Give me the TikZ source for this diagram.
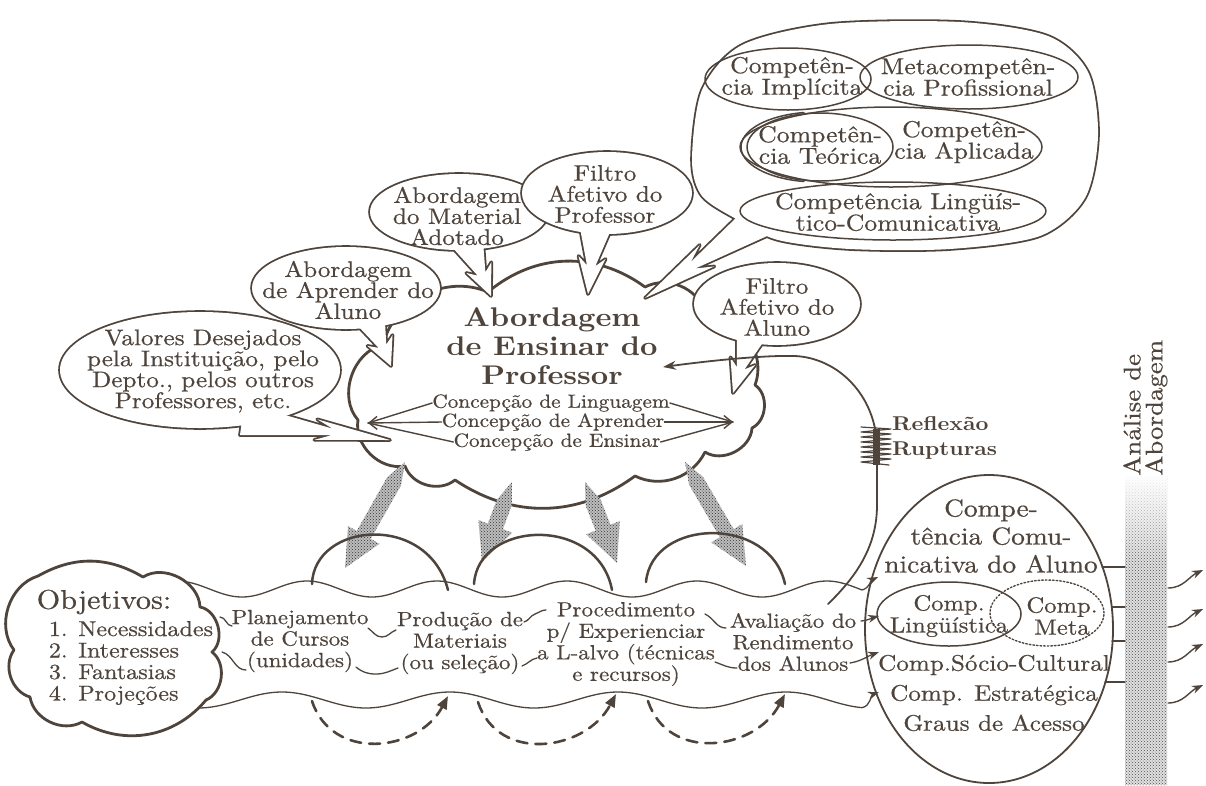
\documentclass[tikz,border=0pt]{standalone}
\usepackage{fontspec}
\setmainfont{lmroman10}[Extension=.otf, UprightFont=*-regular, BoldFont=*-bold, ItalicFont=*-italic, BoldItalicFont=*-bolditalic, FakeStretch=1.12, UprightFeatures={FakeBold=0.6}]
\usetikzlibrary{calc,arrows.meta,patterns,fadings,shapes.geometric}
\definecolor{ink}{RGB}{78,68,60}
\newcommand\setfs[2]{\fontsize{#1}{#2}\selectfont\lineskiplimit=-60pt\relax}

% zig-zag speech tail: emerging at (#1,#2), tip (#3,#4), half width #5
\newcommand\tailpts[5]{%
  \pgfmathsetmacro\tdx{(#3-#1)/100}%
  \pgfmathsetmacro\tdy{(#4-#2)/100}%
  \pgfmathsetmacro\tln{sqrt(\tdx*\tdx+\tdy*\tdy)}%
  \pgfmathsetmacro\tux{\tdx/\tln}%
  \pgfmathsetmacro\tuy{\tdy/\tln}%
  \pgfmathsetmacro\tnx{-\tuy*#5}%
  \pgfmathsetmacro\tny{\tux*#5}%
  \coordinate (zA) at ({#1-20*\tux+\tnx},{#2-20*\tuy+\tny});
  \coordinate (zP1) at ({#1+55*\tdx+0.2*\tnx},{#2+55*\tdy+0.2*\tny});
  \coordinate (zP2) at ({#1+42*\tdx+0.65*\tnx},{#2+42*\tdy+0.65*\tny});
  \coordinate (zT) at (#3,#4);
  \coordinate (zP3) at ({#1+42*\tdx-0.65*\tnx},{#2+42*\tdy-0.65*\tny});
  \coordinate (zP4) at ({#1+55*\tdx-0.2*\tnx},{#2+55*\tdy-0.2*\tny});
  \coordinate (zB) at ({#1-20*\tux-\tnx},{#2-20*\tuy-\tny});
}
\newcommand\tailpath[1]{\path[#1] (zA)--(zP1)--(zP2)--(zT)--(zP3)--(zP4)--(zB)--cycle;}

% elliptic speech bubble: centre, radii, tail start, tail tip, tail half width
\newcommand\ebubble[9]{%
  \tailpts{#5}{#6}{#7}{#8}{#9}
  \draw[bubedge] (#1,#2) ellipse ({#3} and {#4});
  \tailpath{bubedge}
  \fill[white] (#1,#2) ellipse ({#3} and {#4});
  \tailpath{fill=white}
}

% broad dotted arrow from (#1,#2) to (#3,#4)
\newcommand\fatarrow[4]{%
  \pgfmathsetmacro\fdx{(#3-#1)/100}%
  \pgfmathsetmacro\fdy{(#4-#2)/100}%
  \pgfmathsetmacro\fln{sqrt(\fdx*\fdx+\fdy*\fdy)}%
  \pgfmathsetmacro\fux{\fdx/\fln}%
  \pgfmathsetmacro\fuy{\fdy/\fln}%
  \pgfmathsetmacro\fhx{#3-38*\fux}%
  \pgfmathsetmacro\fhy{#4-38*\fuy}%
  \path[grayarrow] (#1,#2) -- ({#1+22*\fux-8*\fuy},{#2+22*\fuy+8*\fux})
    -- ({\fhx-8*\fuy},{\fhy+8*\fux}) -- ({\fhx-18*\fuy},{\fhy+18*\fux})
    -- (#3,#4) -- ({\fhx+18*\fuy},{\fhy-18*\fux}) -- ({\fhx+8*\fuy},{\fhy-8*\fux})
    -- ({#1+22*\fux+8*\fuy},{#2+22*\fuy-8*\fux}) -- cycle;
}

\tikzset{
  bubedge/.style={draw=ink, line width=3.6pt, line join=round},
  cloudline/.style={draw=ink, line width=2.8pt, fill=white, line join=round},
  inner/.style={draw=ink, line width=1.5pt},
  wave/.style={draw=ink, line width=1.3pt},
  warrow/.style={wave, -{Stealth[length=11pt,width=8pt]}},
  arch/.style={draw=ink, line width=2.5pt},
  dasharc/.style={draw=ink, line width=2.6pt, dash pattern=on 11pt off 8pt,
    -{Triangle[length=13pt,width=10pt]}},
  grayarrow/.style={preaction={fill=black!26}, pattern=crosshatch dots, pattern color=black!80},
  conc/.style={draw=ink, line width=1.4pt},
  txt/.style={text=ink, inner sep=0pt, align=center},
  bubtxt/.style={txt, font=\setfs{22.5}{21}},
  comptxt/.style={txt, font=\setfs{23}{21.5}},
  bandtxt/.style={txt, font=\setfs{20.5}{21.5}},
  conctxt/.style={txt, font=\setfs{19}{19.5}},
}

\begin{document}
\begin{tikzpicture}[x=1pt,y=-1pt, line cap=round, line join=round]
\useasboundingbox (0,0) rectangle (1206,785);
\fill[white] (0,0) rectangle (1206,785);

% ---------- endpoints on the student's competence ellipse ----------
\coordinate (in1) at (878,577);
\coordinate (in2) at (879,616);
\coordinate (in3) at (879,652);
\coordinate (in4) at (879,692);

% ---------- wavy band ----------
\draw[warrow] plot[domain=188:862, samples=140, smooth] (\x,{589-8*cos(((\x-437)/130)*360)}) to[out=15,in=205] (in1);
\draw[warrow] plot[domain=196:862, samples=140, smooth] (\x,{700-8*cos(((\x-450)/168)*360)}) to[out=10,in=200] (in4);

% ---------- dashed feedback arcs ----------
\draw[dasharc] (312,701) to[out=-72,in=-118, looseness=1.2] (448,696);
\draw[dasharc] (478,702) to[out=-72,in=-118, looseness=1.2] (616,694);
\draw[dasharc] (648,701) to[out=-72,in=-118, looseness=1.2] (785,694);

% ---------- main cloud ----------
\draw[cloudline] (358,420) to[bend left=60] (383,345) to[bend left=50] (488,292)
  to[bend left=38] (645,287) to[bend left=50] (705,312) to[bend left=55] (755,385)
  to[bend left=60] (752,428) to[bend left=60] (705,452) to[bend left=45] (635,476)
  to[bend left=35] (455,480) to[bend left=55] (405,466) to[bend left=55] (358,420) -- cycle;

% ---------- dotted arrows and arches ----------
\fatarrow{405}{462}{345}{568}
\fatarrow{512}{482}{482}{562}
\fatarrow{585}{482}{617}{563}
\fatarrow{685}{462}{746}{566}
\draw[arch] (312,584) .. controls (314,522) and (428,512) .. (448,590);
\draw[arch] (474,584) .. controls (478,520) and (598,515) .. (612,590);
\draw[arch] (646,582) .. controls (652,518) and (770,515) .. (785,584);

% ---------- objectives cloud ----------
\draw[cloudline] (14,650) to[bend left=55] (38,576) to[bend left=30] (143,577)
  to[bend left=60] (200,607) to[bend left=65] (212,652) to[bend left=60] (206,700)
  to[bend left=40] (82,722) to[bend left=55] (30,697) to[bend left=55] (14,650) -- cycle;

% ---------- speech bubbles ----------
\ebubble{200}{370}{140}{58}{262}{422}{390}{440}{16}
\ebubble{346}{288}{94}{41}{372}{322}{391}{366}{21}
\ebubble{459}{212}{89}{38}{470}{247}{491}{296}{21}
\ebubble{607}{193}{85}{41}{595}{231}{588}{294}{21}

% competence bubble
\tailpts{752}{225}{645}{298}{20}
\draw[bubedge] plot[smooth cycle] coordinates {(692,160) (702,90) (742,45) (830,24) (960,22) (1048,36) (1088,72) (1098,135) (1085,198) (1040,236) (950,249) (850,249) (778,240) (738,220) (702,196)};
\tailpath{bubedge}
\fill[white] plot[smooth cycle] coordinates {(692,160) (702,90) (742,45) (830,24) (960,22) (1048,36) (1088,72) (1098,135) (1085,198) (1040,236) (950,249) (850,249) (778,240) (738,220) (702,196)};
\tailpath{fill=white}
\draw[inner] (788,79) ellipse (83 and 31);
\draw[inner] (969,77) ellipse (109 and 32);
\draw[inner] (891,147) ellipse (151 and 40);
\draw[inner] (820,147) ellipse (73 and 34);
\draw[inner] (817,147) ++(100:76 and 35) arc[start angle=100, end angle=260, x radius=76, y radius=35];
\draw[inner] (893,211) ellipse (153 and 29);

\ebubble{777}{304}{83}{41}{750}{338}{733}{393}{20}

% ---------- reflection loop ----------
\coordinate (rstart) at (828,604);
\coordinate (rin) at (663,367);
\draw[draw=ink, line width=1.8pt, -{Stealth[length=13pt,width=9pt]}] (rstart)
  .. controls (858,575) and (877,545) .. (877,505) -- (877,445)
  .. controls (875,395) and (838,358) .. (795,356)
  .. controls (760,355) and (700,362) .. (rin);
\draw[ink, line width=7pt, line cap=butt] (876,429) -- (876,465);
\draw[ink, line width=1.2pt] plot coordinates {(861,427) (891,429) (861,432) (891,434) (861,437) (891,439) (861,442) (891,444) (861,447) (891,449) (861,452) (891,454) (861,457) (891,459) (861,462) (889,465)};

% ---------- student's communicative competence ----------
\node[draw=ink, line width=1.8pt, ellipse, minimum width=248pt, minimum height=308pt, inner sep=0pt] (cca) at (989,629) {};
\node[draw=ink, line width=1.5pt, ellipse, minimum width=144pt, minimum height=64pt, inner sep=0pt] (ling) at (949,614) {};
\node[draw=ink, line width=1.4pt, dash pattern=on 1.6pt off 2pt, ellipse, minimum width=114pt, minimum height=66pt, inner sep=0pt] (meta) at (1047,613) {};

% ---------- analysis bar ----------
\path[pattern=crosshatch dots, pattern color=black!70, preaction={fill=black!12}] (1125,476) rectangle (1167,785);
\fill[white, path fading=south] (1125,474) rectangle (1167,560);
\foreach \ya/\xa in {567/1102, 607/1112, 641/1112, 682/1105}
  \draw[ink, line width=1.2pt] (\xa,\ya) -- (1125,\ya);
\foreach \yb in {588, 627, 662, 703}
  \draw[ink, line width=1.4pt, -{Stealth[length=11pt,width=8pt]}] (1168,\yb) to[out=0,in=205] (1203,\yb-18);

% ---------- texts ----------
\node[bubtxt] (vd) at (203,371) {Valores Desejados\\pela Instituição, pelo\\Depto., pelos outros\\Professores, etc.};
\node[bubtxt] (apr) at (348,290) {Abordagem\\de Aprender do\\Aluno};
\node[bubtxt] (mat) at (457,216) {Abordagem\\do Material\\Adotado};
\node[bubtxt] (fprof) at (605,194) {Filtro\\Afetivo do\\Professor};
\node[bubtxt] (fal) at (777,307) {Filtro\\Afetivo do\\Aluno};

\node[comptxt] (imp) at (792,78) {Competên-\\cia Implícita};
\node[comptxt] (mc) at (968,77) {Metacompetên-\\cia Profissional};
\node[comptxt] (teo) at (820,145) {Competên-\\cia Teórica};
\node[comptxt] (apl) at (964,142) {Competên-\\cia Aplicada};
\node[comptxt] (lin) at (898,212) {Competência Lingüís-\\tico-Comunicativa};

\node[txt, font=\setfs{27}{29}\bfseries] (ens) at (552,346) {Abordagem\\de Ensinar do\\Professor};
\node[conctxt] (c1) at (551,403) {Concepção de Linguagem};
\node[conctxt] (c2) at (553,422) {Concepção de Aprender};
\node[conctxt] (c3) at (557,442) {Concepção de Ensinar};
\coordinate (ctL) at (368,423);
\coordinate (ctR) at (733,422);
\draw[conc] (c1.west) -- (ctL);
\draw[conc, -{Straight Barb[length=8pt,width=13pt]}] (c2.west) -- (ctL);
\draw[conc] (c3.west) -- (ctL);
\draw[conc] (c1.east) -- (ctR);
\draw[conc, -{Straight Barb[length=8pt,width=13pt]}] (c2.east) -- (ctR);
\draw[conc] (c3.east) -- (ctR);

\node[txt, font=\setfs{20}{25}\bfseries, align=left, anchor=west] (refl) at (892,438) {Reflexão\\Rupturas};

\node[txt, font=\setfs{27}{30}] (objh) at (104,602) {Objetivos:};
\node[txt, font=\setfs{21.5}{21.5}, align=left] (objl) at (131,663) {1. Necessidades\\2. Interesses\\3. Fantasias\\4. Projeções};

\node[bandtxt] (plan) at (300,641) {Planejamento\\de Cursos\\(unidades)};
\node[bandtxt] (prod) at (460,643) {Produção de\\Materiais\\(ou seleção)};
\node[bandtxt] (proc) at (626,644) {Procedimento\\p/ Experienciar\\a L-alvo (técnicas\\e recursos)};
\node[bandtxt] (aval) at (793,642) {Avaliação do\\Rendimento\\dos Alunos};

% inner band strands between the steps
\draw[wave] (220,617) to[out=0,in=180] (232,626);
\draw[wave] (368,628) to[out=-35,in=180] (382,637) to[out=0,in=200] (396,630);
\draw[wave] (524,622) to[out=15,in=200] (535,614) to[out=20,in=180] (546,610);
\draw[wave] (705,614) to[out=-25,in=180] (726,628);
\draw[warrow] (861,621) to[out=5,in=195] (in2);
\draw[wave] (222,652) to[out=-15,in=180] (246,670);
\draw[wave] (356,667) to[out=-40,in=180] (376,674) to[out=0,in=200] (398,668);
\draw[wave] (522,666) to[out=20,in=190] (537,658);
\draw[wave] (715,662) to[out=-20,in=180] (737,668);
\draw[warrow] (850,663) to[out=10,in=200] (in3);

\node[txt, font=\setfs{24.5}{28}] (ccat) at (991,536) {Compe-\\tência Comu-\\nicativa do Aluno};
\node[txt, font=\setfs{22}{22}] (lingt) at (949,616) {Comp.\\Lingüística};
\node[txt, font=\setfs{22}{22}] (metat) at (1062,616) {Comp.\\Meta};
\node[txt, font=\setfs{22.5}{30}] (rest) at (994,693) {Comp.Sócio-Cultural\\Comp. Estratégica\\Graus de Acesso};

\node[txt, font=\setfs{24}{22}, rotate=90, anchor=north west, align=left] (anl) at (1123,476) {Análise de\\Abordagem};
\end{tikzpicture}
\end{document}
